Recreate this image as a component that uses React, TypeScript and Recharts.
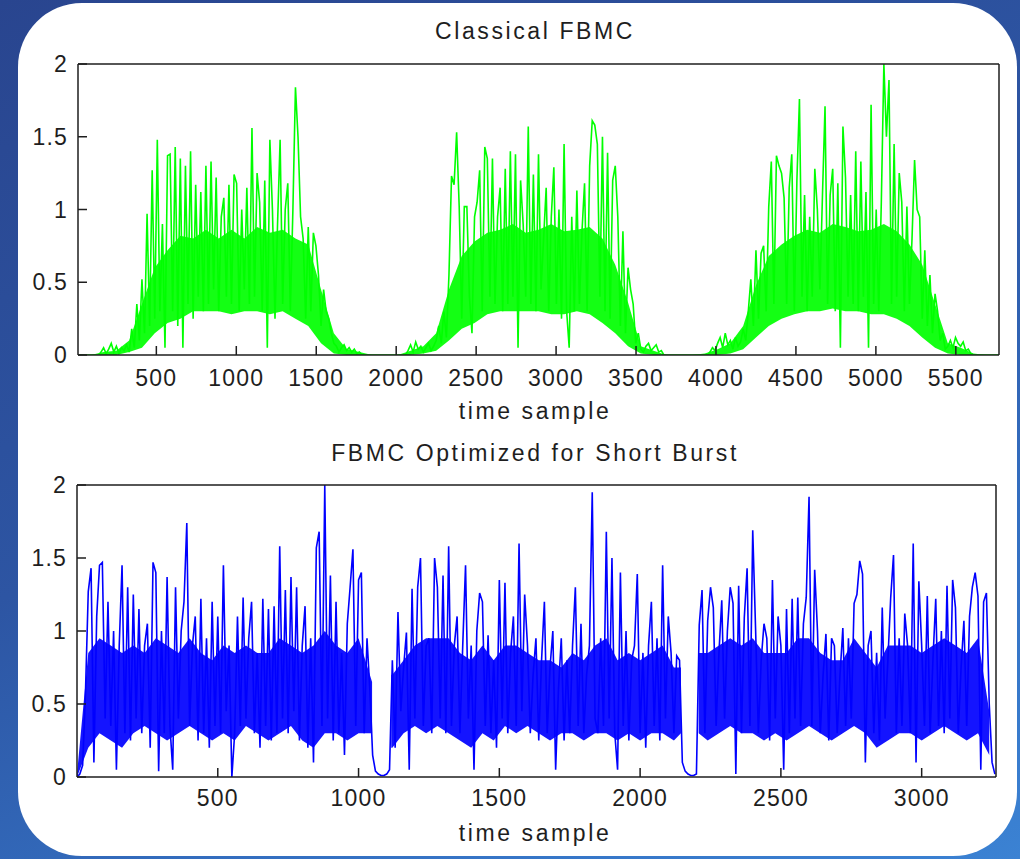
import { LineChart, Line, XAxis, YAxis, AreaChart, Area } from "recharts";

const FONT = "'Liberation Sans', Arial, sans-serif";
const INK = "#1e1e1e";

// amplitude axis shared by both panels
const ampTicks = [0, 0.5, 1, 1.5, 2];

// Classical FBMC: one value every 16 time samples, starting at sample 10
const classicalStart = 10;
const classicalStep = 16;
const classicalDomain = [10, 5770];
const classicalTicks = [500, 1000, 1500, 2000, 2500, 3000, 3500, 4000, 4500, 5000, 5500];
const classicalValues = [
  0, 0, 0, 0, 0, 0, 0, 0, 0, 0.02,
  0.05, 0.01, 0.04, 0.08, 0.02, 0.06, 0.01, 0.05, 0.03, 0.07,
  0.02, 0.18, 0.05, 0.35, 0.1, 0.52, 0.15, 0.97, 0.2, 1.27,
  0.25, 1.48, 0.3, 0.9, 0.05, 1.37, 1.38, 0.3, 1.43, 0.2,
  1.35, 0.05, 1.3, 0.35, 1.4, 0.25, 1.17, 0.4, 1.12, 0.3,
  1.3, 0.35, 1.33, 0.45, 1.22, 0.3, 0.95, 1.08, 0.4, 1.17,
  0.35, 1.24, 1.18, 0.3, 1.0, 0.45, 1.15, 0.35, 1.56, 0.4,
  1.25, 1.05, 0.3, 1.2, 0.05, 1.48, 1.0, 0.25, 0.9, 1.48,
  0.35, 1.0, 1.18, 0.3, 1.0, 1.84, 1.5, 0.95, 0.8, 0.25,
  0.88, 0.3, 0.84, 0.75, 0.55, 0.2, 0.45, 0.3, 0.25, 0.15,
  0.08, 0.06, 0.02, 0.05, 0.07, 0.03, 0.05, 0.02, 0.04, 0.01,
  0.02, 0, 0, 0, 0, 0, 0, 0, 0, 0,
  0, 0, 0, 0, 0, 0, 0, 0, 0, 0.03,
  0.07, 0.02, 0.09, 0.04, 0.06, 0.02, 0.05, 0.08, 0.03, 0.06,
  0.1, 0.2, 0.08, 0.3, 0.12, 0.55, 1.23, 1.17, 1.53, 1.02,
  0.25, 1.02, 1.02, 0.4, 0.15, 0.95, 1.05, 1.27, 0.3, 1.43,
  1.35, 0.4, 1.35, 0.35, 0.95, 1.15, 0.3, 1.28, 0.35, 1.4,
  0.4, 1.38, 0.05, 1.2, 0.9, 0.4, 1.57, 0.35, 1.24, 0.3,
  1.38, 0.45, 0.8, 1.15, 0.3, 0.95, 1.29, 0.35, 1.0, 0.25,
  1.45, 0.3, 0.05, 0.95, 0.3, 1.13, 0.35, 0.85, 1.18, 0.3,
  1.3, 1.61, 1.58, 1.45, 0.4, 1.5, 0.3, 1.39, 0.25, 1.2,
  1.3, 0.95, 0.2, 0.85, 0.15, 0.6, 0.45, 0.35, 0.08, 0.15,
  0.04, 0.02, 0.06, 0.08, 0.03, 0.05, 0.07, 0.02, 0.03, 0,
  0, 0, 0, 0, 0, 0, 0, 0, 0, 0,
  0, 0, 0, 0, 0, 0, 0, 0.02, 0.05, 0.03,
  0.08, 0.12, 0.05, 0.15, 0.07, 0.1, 0.04, 0.12, 0.06, 0.09,
  0.18, 0.1, 0.3, 0.52, 0.2, 0.72, 0.25, 0.7, 0.75, 0.3,
  1.02, 1.33, 0.35, 1.37, 1.3, 1.25, 1.08, 0.35, 1.15, 1.38,
  0.3, 1.2, 1.76, 0.4, 1.1, 0.3, 0.95, 0.4, 1.28, 1.0,
  0.45, 1.1, 1.71, 0.35, 1.1, 1.28, 0.3, 1.18, 0.05, 1.57,
  1.22, 0.4, 1.1, 0.35, 1.4, 0.3, 1.33, 0.4, 1.12, 0.05,
  1.72, 0.35, 1.0, 0.3, 1.05, 2.0, 1.5, 1.89, 0.35, 1.45,
  0.4, 1.25, 1.05, 0.3, 1.02, 0.35, 0.8, 1.34, 1.0, 0.95,
  0.25, 0.72, 0.2, 0.55, 0.15, 0.42, 0.3, 0.1, 0.15, 0.04,
  0.06, 0.1, 0.05, 0.12, 0.08, 0.06, 0.09, 0.03, 0.04, 0.01,
  0, 0, 0, 0, 0, 0, 0, 0, 0, 0,
  0,
];

// solid core of the green trace, read every 80 samples from sample 10
const classicalCoreStep = 80;
const classicalCoreLow = [
  0, 0, 0, 0, 0.02, 0.05, 0.15, 0.22, 0.25, 0.3,
  0.3, 0.3, 0.28, 0.3, 0.3, 0.28, 0.3, 0.25, 0.2, 0.08,
  0.01, 0, 0, 0, 0, 0, 0, 0.01, 0.03, 0.1,
  0.18, 0.22, 0.28, 0.3, 0.3, 0.3, 0.3, 0.28, 0.28, 0.3,
  0.28, 0.22, 0.15, 0.06, 0.01, 0, 0, 0, 0, 0,
  0, 0.01, 0.04, 0.12, 0.2, 0.25, 0.28, 0.3, 0.3, 0.32,
  0.3, 0.3, 0.28, 0.28, 0.25, 0.2, 0.12, 0.05, 0.01, 0,
  0, 0, 0,
];
const classicalCoreHigh = [
  0, 0, 0.02, 0.03, 0.1, 0.35, 0.6, 0.72, 0.82, 0.8,
  0.86, 0.8, 0.86, 0.8, 0.88, 0.84, 0.86, 0.8, 0.76, 0.45,
  0.15, 0.04, 0.02, 0, 0, 0, 0.03, 0.06, 0.15, 0.45,
  0.68, 0.78, 0.84, 0.86, 0.9, 0.84, 0.86, 0.9, 0.85, 0.86,
  0.88, 0.8, 0.62, 0.36, 0.06, 0.03, 0, 0, 0, 0.01,
  0.04, 0.08, 0.2, 0.48, 0.68, 0.76, 0.82, 0.86, 0.84, 0.9,
  0.88, 0.85, 0.86, 0.9, 0.85, 0.76, 0.62, 0.35, 0.08, 0.05,
  0.01, 0, 0,
];

// FBMC optimized for short burst: one value every 10 time samples, from sample 0
const burstStart = 0;
const burstStep = 10;
const burstDomain = [0, 3264];
const burstTicks = [500, 1000, 1500, 2000, 2500, 3000];
const burstValues = [
  0, 0.02, 0.08, 0.57, 1.27, 1.43, 0.1, 1.1, 1.45, 1.47,
  0.4, 1.2, 0.35, 1.0, 0.05, 0.9, 1.45, 0.3, 1.3, 0.25,
  1.25, 0.4, 1.15, 0.3, 0.9, 1.05, 0.2, 1.47, 1.4, 0.04,
  1.0, 0.3, 1.37, 0.35, 0.05, 1.3, 0.4, 1.0, 1.2, 1.74,
  0.35, 0.9, 1.1, 0.25, 1.22, 0.3, 0.95, 0.2, 1.2, 0.35,
  1.1, 0.3, 1.45, 0.45, 0.9, 0.0, 0.3, 1.1, 0.35, 1.23,
  0.4, 0.95, 1.2, 0.3, 0.85, 0.2, 1.22, 0.35, 1.15, 0.25,
  1.17, 0.3, 1.58, 0.4, 1.28, 0.3, 1.37, 0.45, 1.3, 0.25,
  0.9, 1.17, 0.2, 0.95, 0.1, 1.57, 1.68, 0.35, 2.0, 0.4,
  1.38, 0.25, 1.2, 0.3, 0.85, 0.15, 1.05, 1.3, 1.56, 0.35,
  1.35, 1.4, 0.3, 0.95, 0.6, 0.15, 0.04, 0.02, 0.01, 0.01,
  0.02, 0.05, 0.8, 0.2, 1.13, 0.45, 0.75, 0.99, 0.05, 1.29,
  0.4, 1.3, 1.5, 0.35, 0.9, 0.95, 0.3, 1.5, 1.3, 0.4,
  1.38, 0.3, 1.58, 0.35, 0.9, 1.1, 0.3, 0.9, 1.45, 0.4,
  0.9, 0.05, 1.0, 1.26, 1.2, 0.35, 0.97, 0.3, 0.8, 0.2,
  1.35, 0.4, 1.33, 0.3, 0.85, 1.1, 0.35, 1.6, 0.45, 1.25,
  0.9, 0.3, 0.7, 0.95, 0.25, 0.8, 1.2, 0.3, 0.75, 1.0,
  0.05, 0.6, 0.95, 0.25, 0.8, 0.3, 0.9, 1.3, 0.35, 1.05,
  0.3, 0.7, 0.9, 1.95, 0.4, 0.3, 0.95, 0.35, 1.68, 0.4,
  1.5, 0.3, 0.05, 1.4, 0.35, 1.0, 0.25, 0.8, 0.9, 1.39,
  0.3, 0.85, 0.2, 0.9, 1.2, 0.35, 0.95, 0.25, 1.45, 0.4,
  1.1, 0.85, 0.3, 0.83, 0.8, 0.1, 0.04, 0.02, 0.01, 0.01,
  0.02, 1.04, 1.28, 0.3, 1.07, 1.3, 1.16, 0.35, 0.85, 1.21,
  0.4, 1.0, 1.3, 1.19, 0.02, 1.31, 0.3, 1.09, 1.43, 0.35,
  1.69, 1.02, 0.3, 0.8, 1.05, 0.95, 0.25, 1.35, 0.4, 1.1,
  0.9, 0.05, 1.15, 0.3, 1.22, 0.4, 1.23, 0.35, 1.05, 1.23,
  1.92, 0.35, 1.42, 1.0, 0.3, 0.7, 0.98, 0.25, 0.95, 0.9,
  0.3, 0.7, 1.02, 0.35, 0.95, 0.4, 1.19, 1.25, 1.48, 1.39,
  0.1, 0.9, 1.0, 0.3, 0.85, 0.25, 1.16, 0.4, 0.8, 1.23,
  1.52, 0.3, 0.95, 0.35, 1.12, 0.9, 0.3, 1.6, 0.1, 1.34,
  0.9, 0.35, 1.24, 0.3, 0.8, 1.22, 0.35, 1.0, 0.3, 1.31,
  0.4, 1.35, 1.16, 0.3, 0.75, 1.07, 0.35, 1.1, 1.3, 1.4,
  1.24, 0.05, 1.2, 1.26, 0.5, 0.1, 0.02,
];

// solid core of the blue trace, read every 40 samples from sample 0 (null = silent gap)
const burstCoreStep = 40;
const burstCoreLow = [
  0, 0.2, 0.3, 0.25, 0.2, 0.3, 0.35, 0.3, 0.25, 0.3,
  0.35, 0.3, 0.25, 0.3, 0.25, 0.35, 0.3, 0.25, 0.3, 0.35,
  0.25, 0.2, 0.3, 0.3, 0.25, 0.3, 0.3, null, 0.2, 0.3,
  0.35, 0.3, 0.35, 0.3, 0.25, 0.2, 0.3, 0.25, 0.35, 0.3,
  0.35, 0.3, 0.25, 0.3, 0.3, 0.25, 0.3, 0.3, 0.25, 0.3,
  0.25, 0.3, 0.3, 0.25, null, null, 0.25, 0.3, 0.35, 0.3,
  0.3, 0.25, 0.3, 0.25, 0.3, 0.35, 0.3, 0.25, 0.3, 0.35,
  0.3, 0.2, 0.25, 0.3, 0.3, 0.25, 0.3, 0.35, 0.3, 0.25,
  0.3, 0.15,
];
const burstCoreHigh = [
  0.02, 0.85, 0.95, 0.9, 0.85, 0.9, 0.85, 0.95, 0.9, 0.85,
  0.95, 0.85, 0.8, 0.9, 0.85, 0.9, 0.85, 0.85, 0.95, 0.9,
  0.85, 0.9, 1.0, 0.9, 0.85, 0.95, 0.7, null, 0.7, 0.8,
  0.9, 0.95, 0.95, 0.95, 0.85, 0.8, 0.9, 0.8, 0.9, 0.9,
  0.85, 0.8, 0.8, 0.75, 0.85, 0.8, 0.9, 0.95, 0.8, 0.85,
  0.8, 0.85, 0.9, 0.75, null, null, 0.85, 0.9, 0.95, 0.9,
  0.95, 0.85, 0.85, 0.85, 0.95, 0.95, 0.85, 0.8, 0.8, 0.95,
  0.85, 0.75, 0.9, 0.9, 0.9, 0.85, 0.9, 0.95, 0.9, 0.85,
  0.95, 0.45,
];
// where the blue core stops and restarts around the two silent gaps
const burstEdgeAt = [1048, 1116, 2145, 2208];
const burstEdgeLow = [0.3, 0.2, 0.3, 0.3];
const burstEdgeHigh = [0.65, 0.7, 0.75, 0.85];

const axisLine = { stroke: INK, strokeWidth: 1.5 };
const tickLine = { stroke: INK, strokeWidth: 1.5 };
const tickText = { fill: INK, fontSize: 23, fontFamily: FONT, letterSpacing: 1.2 };

// filled band drawn under the trace; plot box given directly as margins
function CoreBand({ low, high, start, step, edgeAt = [], edgeLow = [], edgeHigh = [], domain, color, top, height, plot }) {
  const rows = low.map((lo, i) => ({
    t: start + i * step,
    core: lo === null ? null : [lo, high[i]],
  }));
  const edges = edgeAt.map((t, i) => ({ t, core: [edgeLow[i], edgeHigh[i]] }));
  const data = [...rows, ...edges].sort((a, b) => a.t - b.t);
  return (
    <div style={{ position: "absolute", left: 0, top, width: 1020, height }}>
      <AreaChart width={1020} height={height} data={data} margin={plot}>
        <XAxis hide dataKey="t" type="number" domain={domain} allowDataOverflow />
        <YAxis hide type="number" domain={[0, 2]} allowDataOverflow />
        <Area
          type="linear"
          dataKey="core"
          stroke="none"
          fill={color}
          fillOpacity={0.92}
          isAnimationActive={false}
        />
      </AreaChart>
    </div>
  );
}

function SignalPanel({ values, start, step, domain, ticks, color, top, height, margin, labelGap }) {
  const data = values.map((v, i) => ({ t: start + i * step, v }));
  return (
    <div style={{ position: "absolute", left: 0, top, width: 1020, height }}>
      <LineChart width={1020} height={height} data={data} margin={margin}>
        <XAxis
          xAxisId="b"
          dataKey="t"
          type="number"
          domain={domain}
          ticks={ticks}
          interval={0}
          allowDataOverflow
          height={40}
          tickSize={-9}
          tickMargin={labelGap}
          axisLine={axisLine}
          tickLine={tickLine}
          tick={tickText}
        />
        <XAxis
          xAxisId="t"
          orientation="top"
          dataKey="t"
          type="number"
          domain={domain}
          ticks={ticks}
          interval={0}
          allowDataOverflow
          height={1}
          tickSize={-8}
          axisLine={axisLine}
          tickLine={tickLine}
          tick={false}
        />
        <YAxis
          yAxisId="l"
          type="number"
          domain={[0, 2]}
          ticks={ampTicks}
          interval={0}
          allowDataOverflow
          width={60}
          tickSize={-9}
          tickMargin={19}
          axisLine={axisLine}
          tickLine={tickLine}
          tick={tickText}
        />
        <YAxis
          yAxisId="r"
          orientation="right"
          type="number"
          domain={[0, 2]}
          ticks={ampTicks}
          interval={0}
          allowDataOverflow
          width={1}
          tickSize={-11}
          axisLine={axisLine}
          tickLine={tickLine}
          tick={false}
        />
        <Line
          xAxisId="b"
          yAxisId="l"
          type="linear"
          dataKey="v"
          stroke={color}
          strokeWidth={1.6}
          dot={false}
          isAnimationActive={false}
        />
        {/* keeps the mirrored top/right axes bound to the same data */}
        <Line
          xAxisId="t"
          yAxisId="r"
          type="linear"
          dataKey="v"
          stroke="none"
          dot={false}
          isAnimationActive={false}
        />
      </LineChart>
    </div>
  );
}

function Caption({ text, y }) {
  return (
    <div
      style={{
        position: "absolute",
        left: 235,
        width: 600,
        top: y - 12,
        height: 24,
        lineHeight: "24px",
        textAlign: "center",
        fontFamily: FONT,
        fontSize: 23,
        letterSpacing: 2.6,
        color: INK,
        whiteSpace: "nowrap",
      }}
    >
      {text}
    </div>
  );
}

export default function App() {
  return (
    <div
      style={{
        position: "absolute",
        left: 0,
        top: 0,
        width: 1020,
        height: 859,
        overflow: "hidden",
        background: "linear-gradient(155deg, #29458f 0%, #2d55a3 45%, #3470c2 75%, #3b82d3 100%)",
      }}
    >
      <div
        style={{
          position: "absolute",
          left: 18,
          top: 3,
          width: 999,
          height: 853,
          borderRadius: 64,
          background: "#ffffff",
        }}
      />
      <Caption text="Classical FBMC" y={31} />
      <CoreBand
        low={classicalCoreLow}
        high={classicalCoreHigh}
        start={classicalStart}
        step={classicalCoreStep}
        domain={classicalDomain}
        color="#00ff00"
        top={0}
        height={420}
        plot={{ top: 64, right: 21, bottom: 65, left: 78 }}
      />
      <SignalPanel
        values={classicalValues}
        start={classicalStart}
        step={classicalStep}
        domain={classicalDomain}
        ticks={classicalTicks}
        color="#00ff00"
        top={0}
        height={420}
        margin={{ top: 63, right: 20, bottom: 25, left: 18 }}
        labelGap={24}
      />
      <Caption text="time sample" y={411} />
      <Caption text="FBMC Optimized for Short Burst" y={453} />
      <CoreBand
        low={burstCoreLow}
        high={burstCoreHigh}
        start={burstStart}
        step={burstCoreStep}
        edgeAt={burstEdgeAt}
        edgeLow={burstEdgeLow}
        edgeHigh={burstEdgeHigh}
        domain={burstDomain}
        color="#0000ff"
        top={420}
        height={439}
        plot={{ top: 65, right: 24, bottom: 82, left: 77 }}
      />
      <SignalPanel
        values={burstValues}
        start={burstStart}
        step={burstStep}
        domain={burstDomain}
        ticks={burstTicks}
        color="#0000ff"
        top={420}
        height={439}
        margin={{ top: 64, right: 23, bottom: 42, left: 17 }}
        labelGap={22}
      />
      <Caption text="time sample" y={833} />
    </div>
  );
}
